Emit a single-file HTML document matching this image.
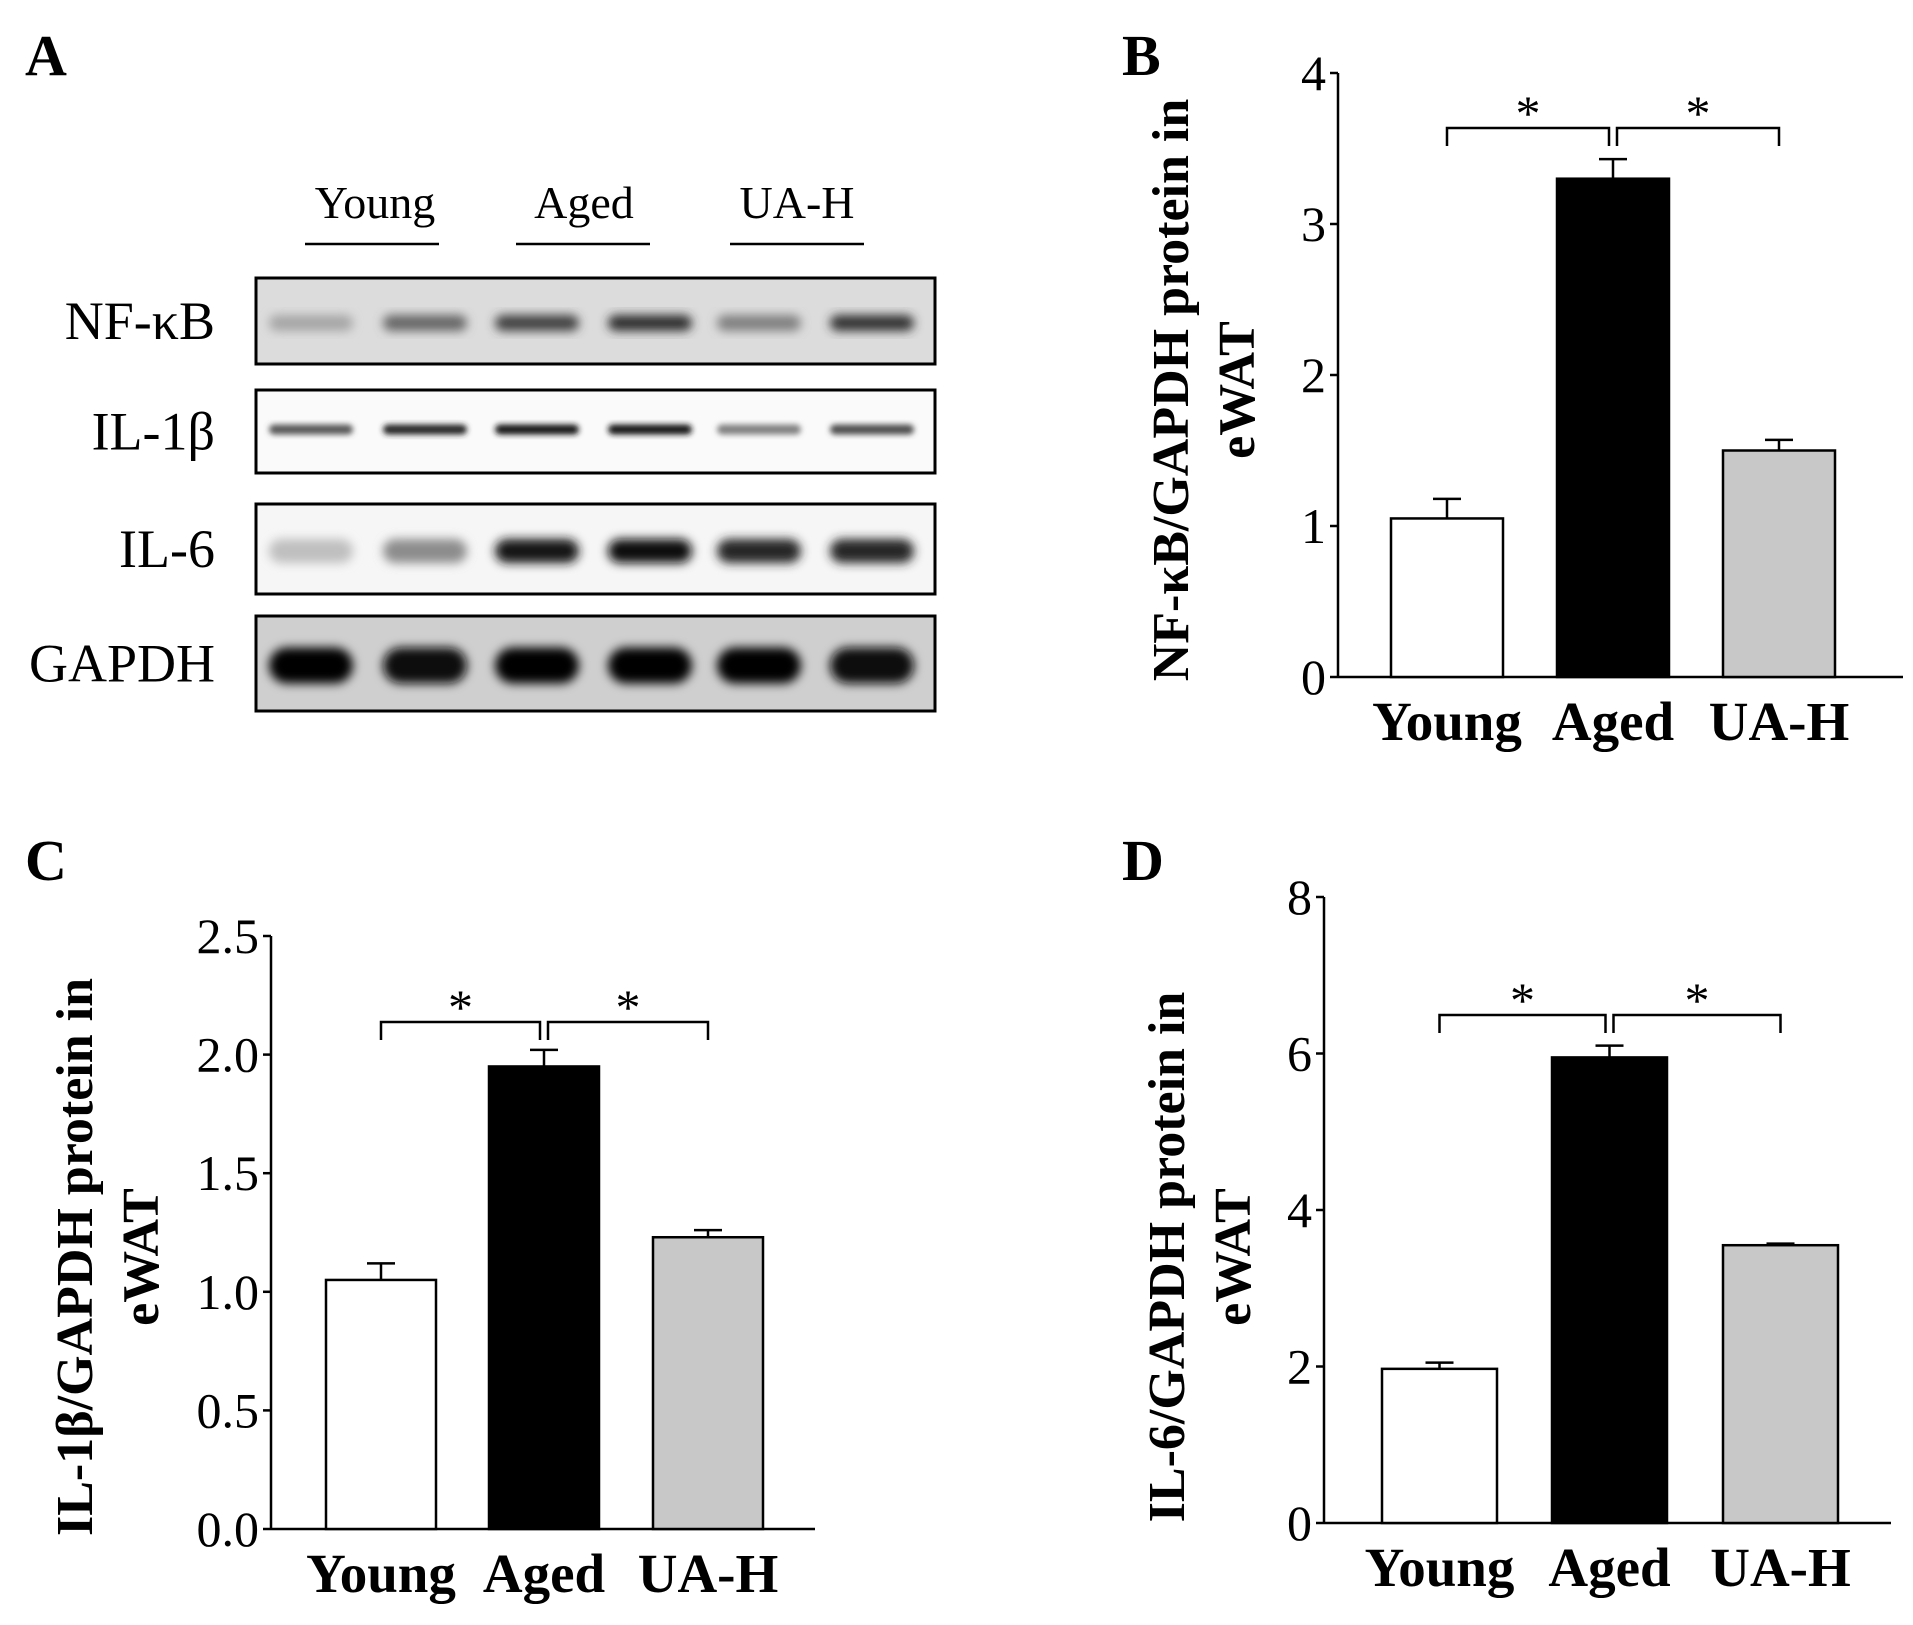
<!DOCTYPE html>
<html><head><meta charset="utf-8"><style>
html,body{margin:0;padding:0;background:#fff}
svg{display:block;font-family:"Liberation Serif","DejaVu Serif",serif}
</style></head><body>
<svg id="fig" width="1913" height="1625" viewBox="0 0 1913 1625" xmlns="http://www.w3.org/2000/svg">
<defs>
<filter id="blur" x="-20%" y="-50%" width="140%" height="200%"><feGaussianBlur stdDeviation="5"/></filter>
<filter id="blur2" x="-20%" y="-50%" width="140%" height="200%"><feGaussianBlur stdDeviation="3"/></filter>
</defs>
<g id="panelA">
<text x="25" y="75" font-size="58" font-weight="bold">A</text>
<text x="375" y="218" font-size="46" text-anchor="middle">Young</text>
<text x="584" y="218" font-size="46" text-anchor="middle">Aged</text>
<text x="797" y="218" font-size="46" text-anchor="middle">UA-H</text>
<line x1="305" y1="244" x2="439" y2="244" stroke="#000" stroke-width="2.5"/>
<line x1="516" y1="244" x2="650" y2="244" stroke="#000" stroke-width="2.5"/>
<line x1="730" y1="244" x2="864" y2="244" stroke="#000" stroke-width="2.5"/>
</g>
<g id="blots"></g>
<g id="charts"></g>
</svg>
<script>
const NS='http://www.w3.org/2000/svg';
function mk(tag,attrs,parent,txt){const e=document.createElementNS(NS,tag);for(const k in attrs)e.setAttribute(k,attrs[k]);if(txt!==undefined)e.textContent=txt;parent.appendChild(e);return e;}

// ---- Western blot data ----
const blotRows=['NF-κB','IL-1β','IL-6','GAPDH'];
const nfkbIntensity=[0.35,0.6,0.75,0.82,0.5,0.8];
const il1bIntensity=[0.65,0.85,0.9,0.92,0.5,0.7];
const il6Intensity=[0.25,0.45,0.9,0.95,0.85,0.85];
const gapdhIntensity=[1,0.97,1,1,1,0.97];
const blotBg=['#dcdcdc','#fafafa','#f6f6f6','#cfcfcf'];
const rowY=[[278,364],[390,473],[504,594],[616,711]];
const laneX=[311,425,537,650,759,872];
const intens=[nfkbIntensity,il1bIntensity,il6Intensity,gapdhIntensity];
const bandH=[16,10,24,36];
const blots=document.getElementById('blots');
blotRows.forEach((name,r)=>{
  const g=mk('g',{},blots);
  
  
  const [y0,y1]=rowY[r];
  mk('rect',{x:256,y:y0,width:679,height:y1-y0,fill:blotBg[r]},g);
  const cy=(y0+y1)/2+(r==1?-2:2);
  intens[r].forEach((v,i)=>{
    const c=Math.round(255*(1-v));
    const b=mk('rect',{x:laneX[i]-42,y:cy-bandH[r]/2,width:84,height:bandH[r],rx:bandH[r]/2,fill:`rgb(${c},${c},${c})`,filter:r==1?'url(#blur2)':'url(#blur)'},g);
    
    
  });
  mk('rect',{x:256,y:y0,width:679,height:y1-y0,fill:'none',stroke:'#000','stroke-width':3},g);
  const t=mk('text',{x:215,y:(y0+y1)/2+18,'font-size':54,'text-anchor':'end'},g,name);
  
  
});

// ---- Bar chart data ----
const categories=['Young','Aged','UA-H'];
const nfkbValues=[1.05,3.3,1.5];
const nfkbErrors=[0.13,0.13,0.07];
const il1bValues=[1.05,1.95,1.23];
const il1bErrors=[0.07,0.07,0.03];
const il6Values=[1.97,5.95,3.55];
const il6Errors=[0.08,0.15,0.02];
const nfkbTicks=['0','1','2','3','4'];
const il1bTicks=['0.0','0.5','1.0','1.5','2.0','2.5'];
const il6Ticks=['0','2','4','6','8'];
const barFills=['#ffffff','#000000','#c8c8c8'];

function chart(o){
  const g=mk('g',{},document.getElementById('charts'));
  
  
  const ymax=o.max;
  const y=v=>o.y0-(v/ymax)*(o.y0-o.ytop);
  const lab=mk('text',{x:o.labX,y:o.labY,'font-size':58,'font-weight':'bold'},g,o.letter);
  
  
  const ya=mk('line',{x1:o.ax,y1:o.ytop,x2:o.ax,y2:o.y0,stroke:'#000','stroke-width':2.5},g);
  
  
  const xa=mk('line',{x1:o.ax,y1:o.y0,x2:o.xend,y2:o.y0,stroke:'#000','stroke-width':2.5},g);
  
  
  o.ticks.forEach(t=>{
    const v=parseFloat(t),yy=y(v);
    mk('line',{x1:o.ax-8,y1:yy,x2:o.ax,y2:yy,stroke:'#000','stroke-width':2.5},g);
    const tl=mk('text',{x:o.ax-12,y:yy+17,'font-size':50,'text-anchor':'end'},g,t);
    
    
  });
  const centers=[];
  o.values.forEach((v,i)=>{
    const x0=o.bx[i],w=o.bw,cx=x0+w/2;centers.push(cx);
    const yt=y(v),ye=y(v+o.errors[i]);
    mk('line',{x1:cx,y1:yt,x2:cx,y2:ye,stroke:'#000','stroke-width':2.5},g);
    mk('line',{x1:cx-14,y1:ye,x2:cx+14,y2:ye,stroke:'#000','stroke-width':2.5},g);
    const b=mk('rect',{x:x0,y:yt,width:w,height:o.y0-yt,fill:barFills[i],stroke:'#000','stroke-width':2.5},g);
    
    
    const cl=mk('text',{x:cx,y:o.y0+63,'font-size':55,'font-weight':'bold','text-anchor':'middle'},g,categories[i]);
    
    
  });
  const by=o.by,leg=18;
  [[0,1,-4],[1,2,4]].forEach(([a,b,off])=>{
    const xa1=a==1?centers[1]+off:centers[a];
    const xb1=b==1?centers[1]+off:centers[b];
    const p=mk('path',{d:`M${xa1},${by+leg} V${by} H${xb1} V${by+leg}`,fill:'none',stroke:'#000','stroke-width':2.5},g);
    
    
    const s=mk('text',{x:(xa1+xb1)/2,y:by+2,'font-size':50,'text-anchor':'middle'},g,'*');
    
    
  });
  const tg=mk('g',{transform:`translate(${o.tx},${o.ty}) rotate(-90)`},g);
  
  
  mk('text',{x:0,y:0,'font-size':52,'font-weight':'bold','text-anchor':'middle'},tg,o.title);
  mk('text',{x:0,y:66,'font-size':52,'font-weight':'bold','text-anchor':'middle'},tg,'eWAT');
}
chart({name:'panel-b-nfkb-chart',letter:'B',labX:1122,labY:75,ax:1338,ytop:73,y0:677,xend:1903,max:4,ticks:nfkbTicks,
  values:nfkbValues,errors:nfkbErrors,bx:[1391,1557,1723],bw:112,by:128,tx:1188,ty:390,title:'NF-κB/GAPDH protein in'});
chart({name:'panel-c-il1b-chart',letter:'C',labX:25,labY:880,ax:271,ytop:936,y0:1529,xend:815,max:2.5,ticks:il1bTicks,
  values:il1bValues,errors:il1bErrors,bx:[326,489,653],bw:110,by:1022,tx:92,ty:1257,title:'IL-1β/GAPDH  protein in'});
chart({name:'panel-d-il6-chart',letter:'D',labX:1122,labY:880,ax:1324,ytop:897,y0:1523,xend:1891,max:8,ticks:il6Ticks,
  values:il6Values,errors:il6Errors,bx:[1382,1552,1723],bw:115,by:1015,tx:1184,ty:1257,title:'IL-6/GAPDH protein in'});
</script>
</body></html>
